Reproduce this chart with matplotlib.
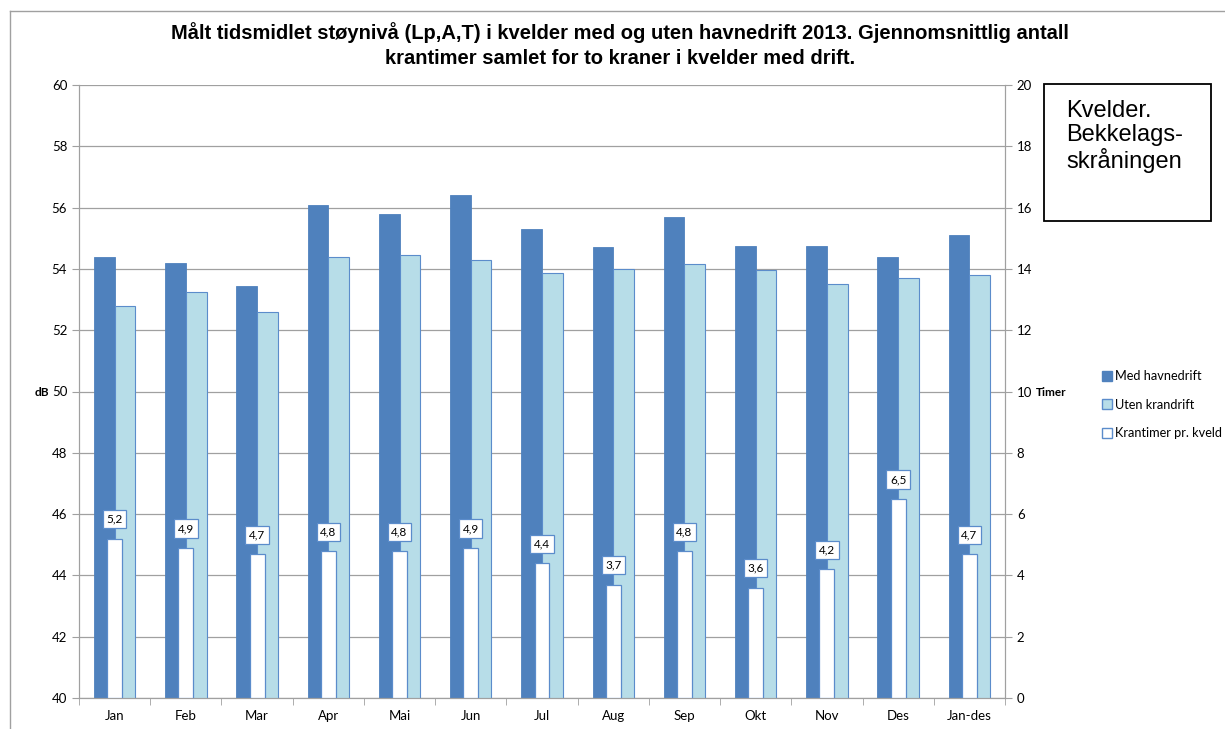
import numpy as np
import matplotlib.pyplot as plt
from matplotlib.patches import Patch
from matplotlib.lines import Line2D

maaneder = ['Jan', 'Feb', 'Mar', 'Apr', 'Mai', 'Jun', 'Jul', 'Aug', 'Sep', 'Okt', 'Nov', 'Des', 'Jan-des']
med_havnedrift = [54.4, 54.2, 53.45, 56.1, 55.8, 56.4, 55.3, 54.7, 55.7, 54.75, 54.75, 54.4, 55.1]
uten_krandrift = [52.8, 53.25, 52.6, 54.4, 54.45, 54.3, 53.85, 54.0, 54.15, 53.95, 53.5, 53.7, 53.8]
krantimer = [5.2, 4.9, 4.7, 4.8, 4.8, 4.9, 4.4, 3.7, 4.8, 3.6, 4.2, 6.5, 4.7]

MORK = '#4F81BD'
LYS = '#B7DDE8'
KANT = '#5B8CCB'
GRAA = '#A0A0A0'

plt.rcParams['font.family'] = ['Lato', 'DejaVu Sans']

fig = plt.figure(figsize=(12.25, 7.29), dpi=100)
ax = fig.add_axes([79/1225, 1-698/729, (1005-79)/1225, (698-85)/729])
x = np.arange(len(maaneder))
b = 0.29

ax.bar(x - b/2, med_havnedrift, b, color=MORK, edgecolor=MORK, linewidth=0.6, zorder=2)
ax.bar(x + b/2, uten_krandrift, b, color=LYS, edgecolor=KANT, linewidth=0.8, zorder=2)
ax.set_ylim(40, 60)
ax.set_yticks(np.arange(40, 61, 2))
ax.set_xlim(-0.5, len(maaneder) - 0.5)
ax.set_xticks(x)
ax.set_xticklabels(maaneder, fontsize=9.5)
ax.set_xticks(np.arange(-0.5, len(maaneder), 1), minor=True)
ax.tick_params(axis='x', which='major', length=0, pad=9)
ax.tick_params(axis='x', which='minor', length=5, color=GRAA)
ax.tick_params(axis='y', length=5, color=GRAA, labelsize=9.5)
ax.grid(axis='y', color=GRAA, linewidth=0.9, zorder=0)
ax.set_axisbelow(True)
for s in ax.spines.values():
    s.set_color(GRAA)
ax.spines['top'].set_visible(False)

ax2 = ax.twinx()
ax2.bar(x, krantimer, 0.21, color='white', edgecolor=KANT, linewidth=0.9, zorder=3)
ax2.set_ylim(0, 20)
ax2.set_yticks(np.arange(0, 21, 2))
ax2.tick_params(axis='y', length=5, color=GRAA, labelsize=9.5)
for s in ax2.spines.values():
    s.set_color(GRAA)
ax2.spines['top'].set_visible(False)
for xi, v in zip(x, krantimer):
    ax2.text(xi, v + 0.45, ('%.1f' % v).replace('.', ','), ha='center', va='bottom', fontsize=8.5,
             bbox=dict(boxstyle='square,pad=0.3', facecolor='white', edgecolor=KANT, linewidth=0.9), zorder=4)

fig.text(35/1225, 1-393/729, 'dB', fontsize=8.5, fontweight='bold', ha='left', va='center')
fig.text(1036/1225, 1-393/729, 'Timer', fontsize=8.5, fontweight='bold', ha='left', va='center')

tittel = ['Målt tidsmidlet støynivå (Lp,A,T) i kvelder med og uten havnedrift 2013. Gjennomsnittlig antall',
          'krantimer samlet for to kraner i kvelder med drift.']
for i, linje in enumerate(tittel):
    fig.text(620/1225, 1-(33 + 25*i)/729, linje, fontsize=14.5, fontweight='bold',
             family=['Liberation Sans', 'DejaVu Sans'], ha='center', va='center')

# tekstboks
fig.patches.append(plt.Rectangle((1044/1225, 1-221/729), (1211-1044)/1225, (221-84)/729,
                                 transform=fig.transFigure, fill=False, edgecolor='black', linewidth=1.3))
fig.text(1066/1225, 1-100/729, 'Kvelder.\nBekkelags-\nskråningen', fontsize=17, family='Liberation Sans',
         ha='left', va='top', linespacing=1.1)

handles = [Patch(facecolor=MORK, edgecolor=MORK),
           Patch(facecolor=LYS, edgecolor=KANT),
           Patch(facecolor='white', edgecolor=KANT)]
fig.legend(handles, ['Med havnedrift', 'Uten krandrift', 'Krantimer pr. kveld'],
           loc='upper left', bbox_to_anchor=(1097/1225, 1-365/729), frameon=False, fontsize=9.2,
           handlelength=0.8, handleheight=0.8, handletextpad=0.2, labelspacing=1.3, borderaxespad=0)

# ramme rundt diagrammet
fig.add_artist(Line2D([10/1225, 1], [1-11/729, 1-11/729], transform=fig.transFigure, color=GRAA, linewidth=1))
fig.add_artist(Line2D([10/1225, 10/1225], [1-11/729, 0], transform=fig.transFigure, color=GRAA, linewidth=1))

fig.savefig('out.png', dpi=100)
